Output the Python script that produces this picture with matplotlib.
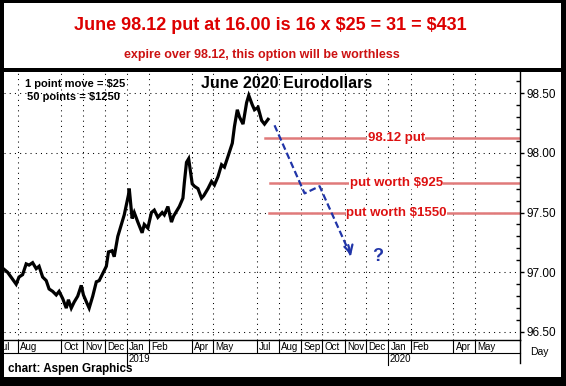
import numpy as np
import matplotlib
matplotlib.use("Agg")
import matplotlib.pyplot as plt
import matplotlib.dates as mdates
from matplotlib.patches import Rectangle
from matplotlib.ticker import MultipleLocator, FixedLocator

plt.rcParams['font.family'] = ['Liberation Sans', 'DejaVu Sans']

W, H = 566, 386

title = "June 98.12 put at 16.00 is 16 x $25 = 31 = $431"
subtitle = "expire over 98.12, this option will be worthless"
chart_title = "June 2020 Eurodollars"
note_lines = ["1 point move = $25", "50 points = $1250"]
source = "chart: Aspen Graphics"
axis_unit = "Day"

price_dates = ["2018-07-12", "2018-07-18", "2018-07-24", "2018-07-30", "2018-08-03", "2018-08-08",
               "2018-08-13", "2018-08-17", "2018-08-22", "2018-08-27", "2018-08-31", "2018-09-05",
               "2018-09-10", "2018-09-14", "2018-09-19", "2018-09-24", "2018-09-28", "2018-10-03",
               "2018-10-08", "2018-10-11", "2018-10-15", "2018-10-19", "2018-10-24", "2018-10-29",
               "2018-11-01", "2018-11-06", "2018-11-09", "2018-11-14", "2018-11-19", "2018-11-23",
               "2018-11-28", "2018-12-03", "2018-12-06", "2018-12-11", "2018-12-14", "2018-12-19",
               "2018-12-24", "2018-12-28", "2019-01-03", "2019-01-04", "2019-01-08", "2019-01-11",
               "2019-01-16", "2019-01-22", "2019-01-25", "2019-01-30", "2019-02-04", "2019-02-08",
               "2019-02-13", "2019-02-19", "2019-02-22", "2019-02-27", "2019-03-04", "2019-03-07",
               "2019-03-12", "2019-03-15", "2019-03-20", "2019-03-22", "2019-03-25", "2019-03-28",
               "2019-04-02", "2019-04-05", "2019-04-10", "2019-04-15", "2019-04-18", "2019-04-24",
               "2019-04-29", "2019-05-03", "2019-05-08", "2019-05-13", "2019-05-17", "2019-05-22",
               "2019-05-28", "2019-05-31", "2019-06-04", "2019-06-07", "2019-06-12", "2019-06-17",
               "2019-06-20", "2019-06-25", "2019-06-28", "2019-07-03", "2019-07-08", "2019-07-12",
               "2019-07-17"]
price_values = [97.03, 97.00, 96.95, 96.90, 96.96, 96.98,
                97.07, 97.06, 97.08, 97.03, 97.05, 96.96,
                96.93, 96.86, 96.84, 96.81, 96.84, 96.78,
                96.70, 96.77, 96.70, 96.75, 96.80, 96.89,
                96.81, 96.74, 96.70, 96.80, 96.92, 96.93,
                96.99, 97.05, 97.17, 97.18, 97.13, 97.30,
                97.40, 97.48, 97.65, 97.70, 97.45, 97.50,
                97.42, 97.33, 97.40, 97.37, 97.50, 97.52,
                97.46, 97.50, 97.48, 97.55, 97.42, 97.47,
                97.52, 97.55, 97.62, 97.75, 97.92, 97.95,
                97.74, 97.72, 97.70, 97.62, 97.64, 97.70,
                97.76, 97.73, 97.80, 97.90, 97.88, 97.97,
                98.08, 98.22, 98.36, 98.30, 98.24, 98.42,
                98.48, 98.40, 98.36, 98.38, 98.27, 98.24,
                98.28]

level_values = [98.12, 97.75, 97.50]
level_labels = ["98.12 put", "put worth $925", "put worth $1550"]
level_starts = ["2019-07-13", "2019-07-20", "2019-07-18"]
level_label_date = "2020-01-12"

projection_dates = ["2019-07-26", "2019-09-06", "2019-09-27", "2019-11-11"]
projection_values = [98.23, 97.66, 97.72, 97.12]
question_date = "2019-12-17"
question_value = 97.13

month_ticks = ["2018-07-01", "2018-08-01", "2018-10-01", "2018-11-01", "2018-12-01", "2019-01-01",
               "2019-02-01", "2019-04-01", "2019-05-01", "2019-07-01", "2019-08-01", "2019-09-01",
               "2019-10-01", "2019-11-01", "2019-12-01", "2020-01-01", "2020-02-01", "2020-04-01",
               "2020-05-01"]
month_labels = ["Jul", "Aug", "Oct", "Nov", "Dec", "Jan", "Feb", "Apr", "May", "Jul", "Aug", "Sep",
                "Oct", "Nov", "Dec", "Jan", "Feb", "Apr", "May"]
year_ticks = ["2019-01-01", "2020-01-01"]
year_labels = ["2019", "2020"]
y_ticks = [96.5, 97.0, 97.5, 98.0, 98.5]


def d(s):
    return mdates.date2num(np.datetime64(s))


def esc(s):
    return s.replace("$", r"\$")


fig = plt.figure(figsize=(W / 100, H / 100), dpi=100)
fig.patch.set_facecolor("white")

# main plot area (pixel box: x 4..520, y 72..340)
L, R, T, B = 4, 520, 72, 340
ax = fig.add_axes([L / W, (H - B) / H, (R - L) / W, (B - T) / H])
ax.set_xlim(d("2018-07-13"), d("2020-07-03"))
ax.set_ylim(96.433, 98.676)
ax.set_facecolor("white")
ph = B - T

for s in ["top", "left"]:
    ax.spines[s].set_visible(False)
ax.spines["bottom"].set_linewidth(1.0)
ax.spines["right"].set_linewidth(1.0)

ax.set_xticks([])
ax.yaxis.tick_right()
ax.yaxis.set_major_locator(FixedLocator(y_ticks))
ax.yaxis.set_minor_locator(MultipleLocator(0.1))
ax.set_yticklabels([f"{v:.2f}" for v in y_ticks])
ax.tick_params(axis="y", which="major", direction="out", length=3, width=1, pad=2, labelsize=8.5)
ax.tick_params(axis="y", which="minor", direction="in", length=3, width=1)

# dotted grid
grid_kw = dict(color="black", lw=0.75, linestyle=(0, (1.0, 4.0)), zorder=1)
for v in y_ticks:
    ax.axhline(v, **grid_kw)
for m in month_ticks:
    ax.axvline(d(m), **grid_kw)

# price series
ax.plot([d(s) for s in price_dates], price_values, color="black", lw=2.3,
        solid_joinstyle="miter", zorder=3)

# put levels
red_line = "#e07a7a"
red_text = "#dd1111"
for v, lab, st in zip(level_values, level_labels, level_starts):
    ax.plot([d(st), ax.get_xlim()[1]], [v, v], color=red_line, lw=1.8, zorder=2)
    ax.text(d(level_label_date), v, esc(lab), color=red_text, fontsize=9.5, fontweight="bold",
            ha="center", va="center", zorder=4,
            bbox=dict(facecolor="white", edgecolor="none", pad=0.3))

# projected path
blue = "#2135a8"
px = [d(s) for s in projection_dates]
ax.plot(px, projection_values, color=blue, lw=1.6, linestyle=(0, (3.0, 1.5)), zorder=5)
ax.annotate("", xy=(px[-1], projection_values[-1]),
            xytext=(px[-1] - 6, projection_values[-1] + 0.13),
            arrowprops=dict(arrowstyle="->,head_length=0.55,head_width=0.3", color=blue, lw=1.6),
            zorder=5)
ax.text(d(question_date), question_value, "?", color=blue, fontsize=13, fontweight="bold",
        ha="center", va="center", zorder=5)

xt = ax.get_xaxis_transform()


def ypx(y):
    return (B - y) / ph


def xpx(x):
    return (x - L) / (R - L)


ax.text(xpx(287), ypx(83), chart_title, transform=ax.transAxes, ha="center", va="center",
        fontsize=11.5, fontweight="bold", color="black", zorder=6)
ax.text(xpx(25), ypx(84), esc(note_lines[0]), transform=ax.transAxes, ha="left", va="center",
        fontsize=8, fontweight="bold", color="black", zorder=6)
ax.text(xpx(27), ypx(97), esc(note_lines[1]), transform=ax.transAxes, ha="left", va="center",
        fontsize=8, fontweight="bold", color="black", zorder=6)

# month label row
for m, lab in zip(month_ticks, month_labels):
    x = d(m)
    ax.plot([x, x], [ypx(340), ypx(352)], transform=xt, color="black", lw=0.8, clip_on=False)
    ax.annotate(lab, xy=(x, ypx(346.5)), xycoords=xt, xytext=(1.6, 0), textcoords="offset points",
                ha="left", va="center", fontsize=7, annotation_clip=False)
ax.plot([0, 1], [ypx(353), ypx(353)], transform=ax.transAxes, color="black", lw=0.8, clip_on=False)
for m, lab in zip(year_ticks, year_labels):
    x = d(m)
    ax.plot([x, x], [ypx(353), ypx(365)], transform=xt, color="black", lw=0.8, clip_on=False)
    ax.annotate(lab, xy=(x, ypx(359)), xycoords=xt, xytext=(1.0, 0), textcoords="offset points",
                ha="left", va="center", fontsize=7, annotation_clip=False)
ax.plot([1, 1], [ypx(340), ypx(363)], transform=ax.transAxes, color="black", lw=1.0, clip_on=False)

# overlay for frame and header
ov = fig.add_axes([0, 0, 1, 1], zorder=10)
ov.set_xlim(0, W)
ov.set_ylim(H, 0)
ov.axis("off")
ov.patch.set_alpha(0)
blk = dict(facecolor="black", edgecolor="none")
ov.add_patch(Rectangle((0, 0), W, 3, **blk))
ov.add_patch(Rectangle((0, 0), 4, H, **blk))
ov.add_patch(Rectangle((561, 0), W - 561, H, **blk))
ov.add_patch(Rectangle((0, 377), W, H - 377, **blk))
ov.add_patch(Rectangle((0, 68), W, 4, **blk))

ov.text(270, 25, esc(title), color="#dd0000", fontsize=13, fontweight="bold", ha="center", va="center")
ov.text(262, 55, subtitle, color="#cc1111", fontsize=9, fontweight="bold", ha="center", va="center")
ov.text(8, 369, source, color="black", fontsize=8.4, fontweight="bold", ha="left", va="center")
ov.text(530, 352, axis_unit, color="black", fontsize=7.5, ha="left", va="center")

fig.savefig("out.png", dpi=100, facecolor="white")
